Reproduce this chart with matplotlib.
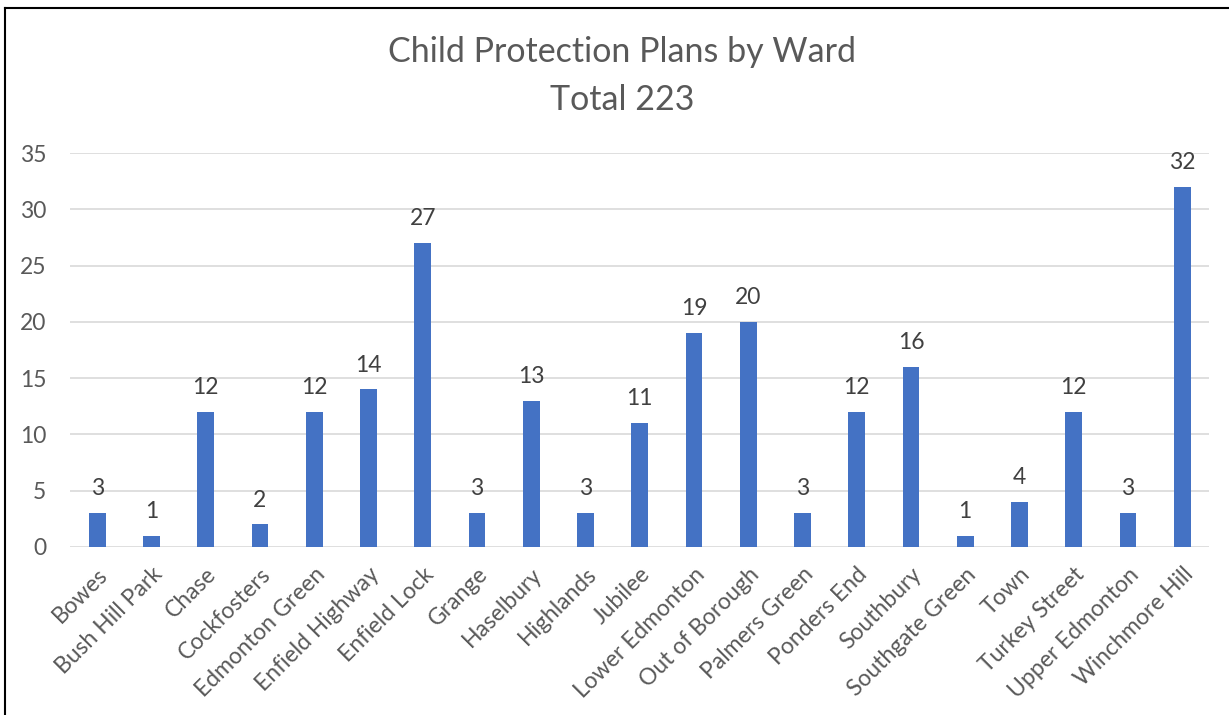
import matplotlib.pyplot as plt
from matplotlib.lines import Line2D

plt.rcParams['font.family'] = ['Lato', 'DejaVu Sans']

wards = ["Bowes", "Bush Hill Park", "Chase", "Cockfosters", "Edmonton Green",
         "Enfield Highway", "Enfield Lock", "Grange", "Haselbury", "Highlands",
         "Jubilee", "Lower Edmonton", "Out of Borough", "Palmers Green",
         "Ponders End", "Southbury", "Southgate Green", "Town", "Turkey Street",
         "Upper Edmonton", "Winchmore Hill"]
plans = [3, 1, 12, 2, 12, 14, 27, 3, 13, 3, 11, 19, 20, 3, 12, 16, 1, 4, 12, 3, 32]

grey = "#595959"

fig = plt.figure(figsize=(12.29, 7.15), dpi=100)
ax = fig.add_axes([0.057, 0.235, 0.927, 0.551])

x = range(len(wards))
bars = ax.bar(x, plans, width=0.31, color="#4472C4", zorder=3)
ax.bar_label(bars, padding=10, fontsize=16.5, color="#404040")

ax.set_xlim(-0.5, len(wards) - 0.5)
ax.set_ylim(0, 35)
ax.set_yticks(range(0, 36, 5))
ax.grid(axis="y", color="#d9d9d9", linewidth=1.2, zorder=0)
for s in ax.spines.values():
    s.set_visible(False)
ax.tick_params(length=0, labelsize=16.5, colors=grey, pad=12)
ax.tick_params(axis="y", pad=17)
ax.set_xticks(list(x))
ax.set_xticklabels(wards, rotation=45, ha="right", rotation_mode="anchor")

fig.text(0.506, 0.927, "Child Protection Plans by Ward", ha="center", va="center",
         fontsize=24.5, color=grey)
fig.text(0.506, 0.860, "Total 223", ha="center", va="center",
         fontsize=24.5, color=grey)

# chart frame (only top and left edges visible in the crop)
fig.add_artist(Line2D([0.004, 1.0], [0.989, 0.989], color="black", linewidth=1.5,
                      transform=fig.transFigure))
fig.add_artist(Line2D([0.004, 0.004], [0.0, 0.989], color="black", linewidth=1.5,
                      transform=fig.transFigure))

fig.savefig("out.png", dpi=100)
